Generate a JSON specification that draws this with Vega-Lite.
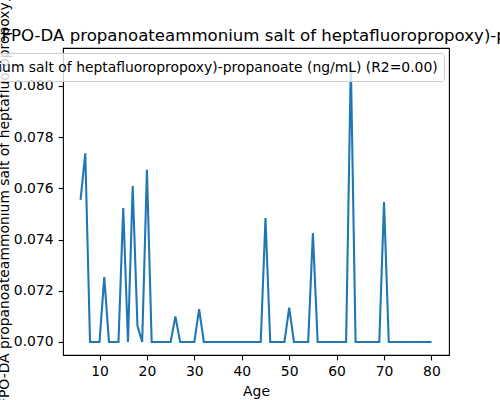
{
  "$schema": "https://vega.github.io/schema/vega-lite/v6.json",
  "width": 386,
  "height": 307,
  "autosize": {"type": "none"},
  "padding": {"left": 63, "top": 48, "right": 51, "bottom": 45},
  "background": "white",
  "title": {
    "text": "HFPO-DA propanoateammonium salt of heptafluoropropoxy)-propanoate (ng/mL)",
    "anchor": "start",
    "frame": "group",
    "dx": -74,
    "dy": 213,
    "offset": 8,
    "baseline": "alphabetic",
    "font": "DejaVu Sans",
    "fontSize": 16.6,
    "fontWeight": "normal",
    "color": "black"
  },
  "data": {
    "values": [
      {"Age": 6, "conc": 0.07555},
      {"Age": 7, "conc": 0.07737},
      {"Age": 8, "conc": 0.07},
      {"Age": 9, "conc": 0.07},
      {"Age": 10, "conc": 0.07},
      {"Age": 11, "conc": 0.07253},
      {"Age": 12, "conc": 0.07},
      {"Age": 13, "conc": 0.07},
      {"Age": 14, "conc": 0.07},
      {"Age": 15, "conc": 0.07523},
      {"Age": 16, "conc": 0.07},
      {"Age": 17, "conc": 0.07609},
      {"Age": 18, "conc": 0.07063},
      {"Age": 19, "conc": 0.07},
      {"Age": 20, "conc": 0.07672},
      {"Age": 21, "conc": 0.07},
      {"Age": 22, "conc": 0.07},
      {"Age": 23, "conc": 0.07},
      {"Age": 24, "conc": 0.07},
      {"Age": 25, "conc": 0.07},
      {"Age": 26, "conc": 0.071},
      {"Age": 27, "conc": 0.07},
      {"Age": 28, "conc": 0.07},
      {"Age": 29, "conc": 0.07},
      {"Age": 30, "conc": 0.07},
      {"Age": 31, "conc": 0.07128},
      {"Age": 32, "conc": 0.07},
      {"Age": 33, "conc": 0.07},
      {"Age": 34, "conc": 0.07},
      {"Age": 35, "conc": 0.07},
      {"Age": 36, "conc": 0.07},
      {"Age": 37, "conc": 0.07},
      {"Age": 38, "conc": 0.07},
      {"Age": 39, "conc": 0.07},
      {"Age": 40, "conc": 0.07},
      {"Age": 41, "conc": 0.07},
      {"Age": 42, "conc": 0.07},
      {"Age": 43, "conc": 0.07},
      {"Age": 44, "conc": 0.07},
      {"Age": 45, "conc": 0.07484},
      {"Age": 46, "conc": 0.07},
      {"Age": 47, "conc": 0.07},
      {"Age": 48, "conc": 0.07},
      {"Age": 49, "conc": 0.07},
      {"Age": 50, "conc": 0.07134},
      {"Age": 51, "conc": 0.07},
      {"Age": 52, "conc": 0.07},
      {"Age": 53, "conc": 0.07},
      {"Age": 54, "conc": 0.07},
      {"Age": 55, "conc": 0.07425},
      {"Age": 56, "conc": 0.07},
      {"Age": 57, "conc": 0.07},
      {"Age": 58, "conc": 0.07},
      {"Age": 59, "conc": 0.07},
      {"Age": 60, "conc": 0.07},
      {"Age": 61, "conc": 0.07},
      {"Age": 62, "conc": 0.07},
      {"Age": 63, "conc": 0.0809},
      {"Age": 64, "conc": 0.07},
      {"Age": 65, "conc": 0.07},
      {"Age": 66, "conc": 0.07},
      {"Age": 67, "conc": 0.07},
      {"Age": 68, "conc": 0.07},
      {"Age": 69, "conc": 0.07},
      {"Age": 70, "conc": 0.07546},
      {"Age": 71, "conc": 0.07},
      {"Age": 72, "conc": 0.07},
      {"Age": 73, "conc": 0.07},
      {"Age": 74, "conc": 0.07},
      {"Age": 75, "conc": 0.07},
      {"Age": 76, "conc": 0.07},
      {"Age": 77, "conc": 0.07},
      {"Age": 78, "conc": 0.07},
      {"Age": 79, "conc": 0.07},
      {"Age": 80, "conc": 0.07}
    ]
  },
  "mark": {"type": "line", "strokeWidth": 2.08},
  "encoding": {
    "x": {
      "field": "Age",
      "type": "quantitative",
      "scale": {"domain": [2.3, 83.7], "nice": false, "zero": false},
      "axis": {
        "values": [10, 20, 30, 40, 50, 60, 70, 80],
        "title": "Age",
        "titlePadding": 6
      }
    },
    "y": {
      "field": "conc",
      "type": "quantitative",
      "scale": {"domain": [0.06949, 0.08148], "nice": false, "zero": false},
      "axis": {
        "values": [0.07, 0.072, 0.074, 0.076, 0.078, 0.08],
        "format": ".3f",
        "title": "HFPO-DA propanoateammonium salt of heptafluoropropoxy)-propanoate (ng/mL)",
        "titleAngle": -90,
        "titleAlign": "left",
        "titleBaseline": "alphabetic",
        "titleX": -55,
        "titleY": 368
      }
    },
    "color": {
      "datum": "HFPO-DA propanoateammonium salt of heptafluoropropoxy)-propanoate (ng/mL) (R2=0.00)",
      "type": "nominal",
      "scale": {"range": ["#1f77b4"]},
      "legend": {
        "title": null,
        "orient": "top-right",
        "offset": 5,
        "padding": 6,
        "strokeColor": "#cccccc",
        "fillColor": "rgba(255,255,255,0.8)",
        "cornerRadius": 3,
        "symbolType": "stroke",
        "symbolStrokeWidth": 2.08,
        "symbolSize": 200,
        "labelFont": "DejaVu Sans",
        "labelFontSize": 13.9,
        "labelColor": "black",
        "labelLimit": 2000,
        "labelOffset": 11
      }
    }
  },
  "config": {
    "view": {"stroke": "black", "strokeWidth": 1.1},
    "axis": {
      "grid": false,
      "domain": false,
      "tickColor": "black",
      "tickWidth": 1.1,
      "tickSize": 4.9,
      "labelFont": "DejaVu Sans",
      "labelFontSize": 13.9,
      "labelColor": "black",
      "labelPadding": 5,
      "titleFont": "DejaVu Sans",
      "titleFontSize": 13.9,
      "titleFontWeight": "normal",
      "titleColor": "black"
    }
  }
}
